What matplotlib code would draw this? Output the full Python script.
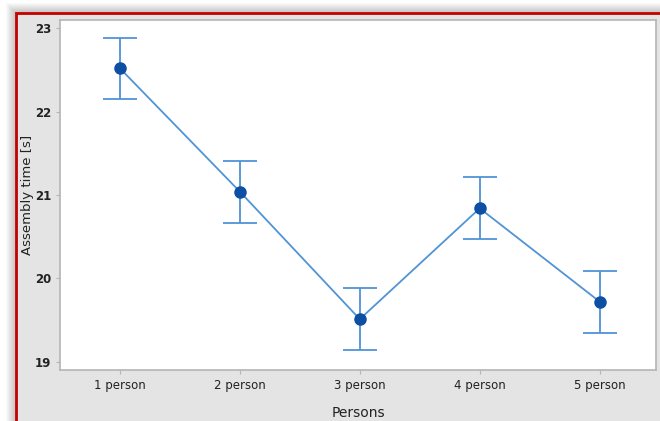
import numpy as np
import matplotlib
matplotlib.use("Agg")
from matplotlib import pyplot as plt
from matplotlib.patches import Rectangle

# mean assembly time per team size, with interval half-widths
groups = ['1 person', '2 person', '3 person', '4 person', '5 person']
mean_time = [22.52, 21.04, 19.51, 20.84, 19.72]
err_low = [0.37, 0.38, 0.37, 0.37, 0.37]
err_high = [0.36, 0.37, 0.37, 0.37, 0.37]

line_col = '#5094d6'
dot_col = '#0d4fa3'

fig = plt.figure(figsize=(6.6, 4.21), dpi=100)
fig.patch.set_facecolor('white')

# soft drop shadow and red frame around the panel
W, H = 660.0, 421.0
for i in range(10):
    off = 10 - i
    fig.patches.append(Rectangle(((16 - off) / W, 0), 1, (H - 13 + off) / H,
                                 transform=fig.transFigure, facecolor='black',
                                 edgecolor='none', alpha=0.025, zorder=0))
fig.patches.append(Rectangle((16 / W, -0.1), 1, (H - 13) / H + 0.1,
                             transform=fig.transFigure, facecolor='#e4e4e4',
                             edgecolor='#c40000', linewidth=2, zorder=1))

ax = fig.add_axes([60 / W, 1 - 370 / H, (656 - 60) / W, (370 - 20) / H])
ax.set_facecolor('white')
ax.set_zorder(2)

x = np.arange(1, len(groups) + 1)
ax.errorbar(x, mean_time, yerr=[err_low, err_high], fmt='none',
            ecolor=line_col, elinewidth=1.3, capsize=12, capthick=1.3, zorder=2)
ax.plot(x, mean_time, color=line_col, linewidth=1.3, zorder=3)
ax.plot(x, mean_time, 'o', color=dot_col, markersize=8, zorder=4)

ax.set_xlim(0.5, 5.47)
ax.set_ylim(18.9, 23.1)
ax.set_yticks([19, 20, 21, 22, 23])
ax.set_xticks(x)
ax.set_xticklabels(groups)

for s in ax.spines.values():
    s.set_color('#b5b5b5')
    s.set_linewidth(1.2)
ax.tick_params(colors='#b5b5b5', labelcolor='#222222', length=3, labelsize=8.5)
for t in ax.get_yticklabels():
    t.set_fontweight('bold')

ax.set_ylabel('Assembly time [s]', fontsize=9.5, color='#222222')
ax.yaxis.set_label_coords(-26 / 596, 0.5)
ax.set_xlabel('Persons', fontsize=10, color='#222222', labelpad=10)

fig.savefig('out.png', dpi=100)
